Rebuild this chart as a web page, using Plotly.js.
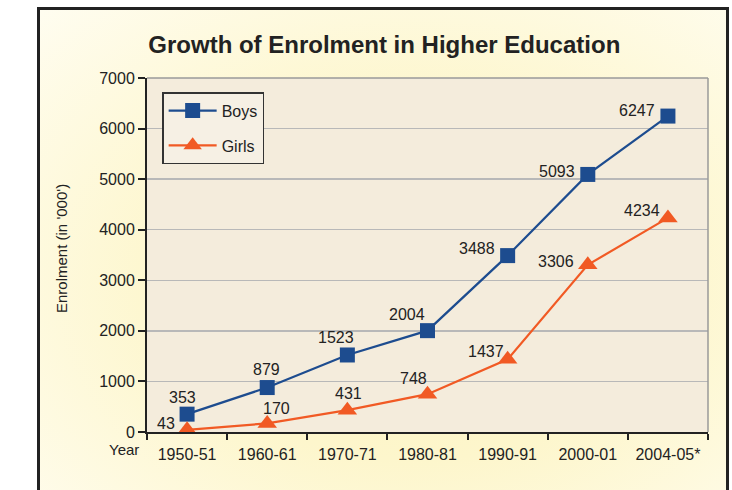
<!DOCTYPE html>
<html>
<head>
<meta charset="utf-8">
<script src="https://cdn.plot.ly/plotly-3.0.1.min.js"></script>
<style>
  html, body { margin:0; padding:0; background:#ffffff; }
  #wrap { position:relative; width:732px; height:490px; overflow:hidden; background:#fff; }
  #frame { position:absolute; left:37px; top:7px; width:686px; height:500px;
           border:3px solid #222;
           background: radial-gradient(ellipse at 55% 55%, #fdf3bd 0%, #fdf6cc 45%, #fffdf0 100%); }
  #chart { position:absolute; left:0; top:0; width:732px; height:490px; }
</style>
</head>
<body>
<div id="wrap">
  <div id="frame"></div>
  <div id="chart"></div>
</div>
<script>
const years = ["1950-51","1960-61","1970-71","1980-81","1990-91","2000-01","2004-05*"];
const boys  = [353, 879, 1523, 2004, 3488, 5093, 6247];
const girls = [43, 170, 431, 748, 1437, 3306, 4234];
const yTicks = [0,1000,2000,3000,4000,5000,6000,7000];

// label offsets (pixels) relative to each marker — styling only
const boysShiftX  = [-5, -1, -11, -21, -31, -31, -31];
const boysShiftY  = [17, 18, 17, 16, 7, 3, 6];
const girlsShiftX = [-21, 9, 1, -14, -22, -32, -26];
const girlsShiftY = [6, 15, 17, 16, 8, 3, 7];

const FONT = "Liberation Sans, Arial, sans-serif";

const traces = [
  { x: years, y: boys, name: "Boys", type: "scatter", mode: "lines+markers",
    line: {color: "#1d4c8f", width: 2.2},
    marker: {symbol: "square", size: 15, color: "#1d4c8f"},
    legendgroup: "b", cliponaxis: false },
  { x: years, y: girls, name: "Girls", type: "scatter", mode: "lines+markers",
    line: {color: "#f15a24", width: 2.2},
    marker: {symbol: "triangle-up", size: 17, color: "#f15a24"},
    legendgroup: "g", cliponaxis: false }
];

const annotations = [];
years.forEach((yr, i) => {
  annotations.push({x: yr, y: boys[i], xref: "x", yref: "y", text: String(boys[i]),
    showarrow: false, xanchor: "center", yanchor: "middle",
    xshift: boysShiftX[i], yshift: boysShiftY[i],
    font: {family: FONT, size: 16, color: "#222"}});
  annotations.push({x: yr, y: girls[i], xref: "x", yref: "y", text: String(girls[i]),
    showarrow: false, xanchor: "center", yanchor: "middle",
    xshift: girlsShiftX[i], yshift: girlsShiftY[i],
    font: {family: FONT, size: 16, color: "#222"}});
});
annotations.push({text: "Year", xref: "paper", yref: "paper", x: -0.011, y: -0.05,
  xanchor: "right", yanchor: "middle", showarrow: false, font: {family: FONT, size: 15, color: "#222"}});
annotations.push({text: "Enrolment (in '000')", xref: "paper", yref: "paper", x: -0.1515, y: 0.517,
  xanchor: "center", yanchor: "middle", textangle: -90, showarrow: false,
  font: {family: FONT, size: 15, color: "#222"}});

const layout = {
  width: 732, height: 490,
  margin: {l: 147, r: 24, t: 78, b: 58},
  paper_bgcolor: "rgba(0,0,0,0)",
  plot_bgcolor: "#f4ecdc",
  font: {family: FONT, size: 16, color: "#222"},
  title: {text: "<b>Growth of Enrolment in Higher Education</b>",
          font: {family: FONT, size: 24, color: "#222"}, x: 0.525, xanchor: "center", y: 0.91, yanchor: "middle"},
  showlegend: true,
  legend: {x: 0.027, y: 0.96, xanchor: "left", yanchor: "top",
           bgcolor: "#f6f0e4", bordercolor: "#333", borderwidth: 1.5,
           font: {size: 16, color: "#222"}, tracegroupgap: 11, itemwidth: 48},
  xaxis: {type: "category", categoryorder: "array", categoryarray: years,
          range: [-0.5, 6.5], showgrid: false, showline: true, linecolor: "#222", linewidth: 2,
          ticks: "outside", tickson: "boundaries", ticklen: 6, tickcolor: "#222", tickwidth: 2,
          ticklabelstandoff: 7,
          tickfont: {size: 16, color: "#222"}, fixedrange: true},
  yaxis: {range: [0, 7000], tickvals: yTicks, ticktext: yTicks.map(String),
          showgrid: true, gridcolor: "#b8b8b8", gridwidth: 1.5, zeroline: false,
          showline: true, linecolor: "#222", linewidth: 2,
          ticks: "outside", ticklen: 7, tickcolor: "#222", tickwidth: 2,
          tickfont: {size: 16, color: "#222"},
          fixedrange: true},
  shapes: [
    {type: "line", xref: "paper", yref: "paper", x0: 0, x1: 1, y0: 1, y1: 1, line: {color: "#9a9a9a", width: 1.5}},
    {type: "line", xref: "paper", yref: "paper", x0: 1, x1: 1, y0: 0, y1: 1, line: {color: "#9a9a9a", width: 1.5}}
  ],
  annotations: annotations
};

Plotly.newPlot("chart", traces, layout, {displayModeBar: false, staticPlot: true});
</script>
</body>
</html>
